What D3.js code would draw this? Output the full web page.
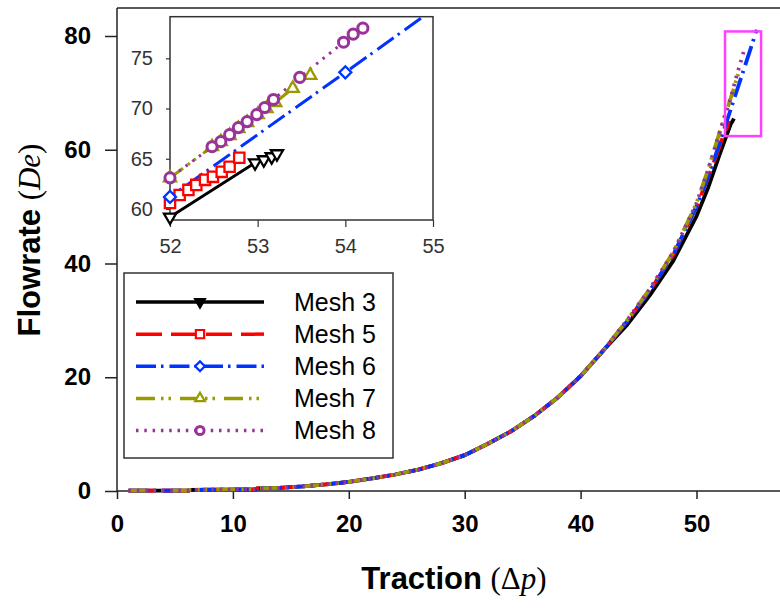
<!DOCTYPE html>
<html>
<head>
<meta charset="utf-8">
<script src="https://cdn.jsdelivr.net/npm/d3@7"></script>
<style>
  body { margin: 0; background: #fff; }
  svg { display: block; font-family: "Liberation Sans", Arial, sans-serif; }
</style>
</head>
<body>
<div id="chart"></div>
<script>
// Shared lower part of the curve (all meshes overlap here)
const baseTraction = [1, 6.2, 6.3, 12, 12.1, 14, 16, 18, 20, 22, 24, 26, 28, 30, 32, 34, 36, 38, 40, 42];
const baseFlow = [0.05, 0.05, 0.2, 0.3, 0.45, 0.55, 0.8, 1.15, 1.6, 2.2, 2.9, 3.75, 4.9, 6.3, 8.3, 10.5, 13.2, 16.4, 20.2, 24.8];

// Upper part, per mesh
const mesh3Traction = [44, 46, 48, 50, 51, 52, 52.97, 53.07, 53.16, 53.22];
const mesh3Flow = [29.2, 34.5, 40.5, 48.3, 53.3, 59.2, 64.6, 64.9, 65.2, 65.5];
const mesh5Traction = [44, 46, 48, 50, 51, 52, 52.11, 52.21, 52.3, 52.4, 52.49, 52.59, 52.68, 52.79];
const mesh5Flow = [29.8, 35.3, 41.5, 50.0, 55.0, 60.6, 61.4, 61.9, 62.4, 62.9, 63.2, 63.7, 64.2, 65.1];
const mesh6Traction = [44, 46, 48, 50, 51, 52, 54, 55.2];
const mesh6Flow = [29.8, 35.3, 41.5, 50.0, 55.2, 61.2, 73.6, 81.1];
const mesh7Traction = [44, 46, 48, 50, 51, 52, 52.48, 52.58, 52.68, 52.78, 52.88, 53.0, 53.1, 53.2, 53.4, 53.6];
const mesh7Flow = [30.0, 35.6, 42.0, 50.6, 56.5, 63.1, 66.2, 66.7, 67.3, 68.0, 68.6, 69.4, 70.0, 70.6, 72.0, 73.3];
const mesh8Traction = [44, 46, 48, 50, 51, 52, 52.48, 52.58, 52.68, 52.78, 52.88, 52.99, 53.08, 53.18, 53.48, 53.98, 54.09, 54.2];
const mesh8Flow = [30.0, 35.6, 42.0, 50.6, 56.5, 63.1, 66.2, 66.7, 67.4, 68.1, 68.7, 69.4, 70.1, 70.9, 73.1, 76.6, 77.4, 78.0];

const seriesNames = ['Mesh 3', 'Mesh 5', 'Mesh 6', 'Mesh 7', 'Mesh 8'];
const xTicks = [0, 10, 20, 30, 40, 50];
const yTicks = [0, 20, 40, 60, 80];
const insetXTicks = [52, 53, 54, 55];
const insetYTicks = [60, 65, 70, 75];
const zoomBox = [52.46, 55.57, 62.4, 80.8]; // x0, x1, y0, y1

const styles = [
  { color: '#000000', dash: null, shape: 'tridown' },
  { color: '#ff0000', dash: '26,9', shape: 'square' },
  { color: '#0033ff', dash: '20,5,2.5,6', shape: 'diamond' },
  { color: '#999900', dash: '19,6,2.5,5,2.5,9', shape: 'triup' },
  { color: '#993399', dash: '2.5,5.8', shape: 'circle' }
];

const tractions = [mesh3Traction, mesh5Traction, mesh6Traction, mesh7Traction, mesh8Traction];
const flows = [mesh3Flow, mesh5Flow, mesh6Flow, mesh7Flow, mesh8Flow];
const series = seriesNames.map((name, i) => ({
  name,
  style: styles[i],
  points: baseTraction.concat(tractions[i]).map((t, j) => [t, baseFlow.concat(flows[i])[j]])
}));

const svg = d3.select('#chart').append('svg').attr('width', 780).attr('height', 608);

// main scales
const x = d3.scaleLinear().domain([0, 50]).range([117, 696.5]);
const y = d3.scaleLinear().domain([0, 80]).range([491, 36]);

// frame
svg.append('line').attr('x1', 117).attr('x2', 780).attr('y1', 8).attr('y2', 8).attr('stroke', '#222').attr('stroke-width', 1.5);
svg.append('line').attr('x1', 117).attr('x2', 117).attr('y1', 8).attr('y2', 491).attr('stroke', '#222').attr('stroke-width', 1.5);
svg.append('line').attr('x1', 117).attr('x2', 780).attr('y1', 491).attr('y2', 491).attr('stroke', '#222').attr('stroke-width', 1.5);

const yAxis = svg.append('g').attr('transform', 'translate(117,0)')
  .call(d3.axisLeft(y).tickValues(yTicks).tickSize(12).tickPadding(14));
const xAxis = svg.append('g').attr('transform', 'translate(0,491)')
  .call(d3.axisBottom(x).tickValues(xTicks).tickSize(8).tickPadding(16));
[yAxis, xAxis].forEach(g => {
  g.select('.domain').remove();
  g.selectAll('line').attr('stroke', '#222').attr('stroke-width', 1.5);
  g.selectAll('text').attr('font-size', 24).attr('font-weight', 'bold').attr('fill', '#000')
    .attr('font-family', '"Liberation Sans", Arial, sans-serif');
});

// axis titles
const serif = '"Liberation Serif", serif';
const yTitle = svg.append('text')
  .attr('transform', 'translate(40,240) rotate(-90)')
  .attr('text-anchor', 'middle').attr('font-size', 31).attr('font-weight', 'bold');
yTitle.append('tspan').text('Flowrate ');
yTitle.append('tspan').attr('font-family', serif).attr('font-weight', 'normal').text('(');
yTitle.append('tspan').attr('font-family', serif).attr('font-weight', 'normal').attr('font-style', 'italic').text('De');
yTitle.append('tspan').attr('font-family', serif).attr('font-weight', 'normal').text(')');

const xTitle = svg.append('text')
  .attr('x', 454).attr('y', 589)
  .attr('text-anchor', 'middle').attr('font-size', 31).attr('font-weight', 'bold');
xTitle.append('tspan').text('Traction ');
xTitle.append('tspan').attr('font-family', serif).attr('font-weight', 'normal').text('(\u0394');
xTitle.append('tspan').attr('font-family', serif).attr('font-weight', 'normal').attr('font-style', 'italic').text('p');
xTitle.append('tspan').attr('font-family', serif).attr('font-weight', 'normal').text(')');

// main lines
const mainLine = d3.line().x(d => x(d[0])).y(d => y(d[1]));
series.forEach(s => {
  svg.append('path').datum(s.points)
    .attr('d', mainLine)
    .attr('fill', 'none')
    .attr('stroke', s.style.color)
    .attr('stroke-width', 3.8)
    .attr('stroke-dasharray', s.style.dash);
});

// zoom box
svg.append('rect')
  .attr('x', x(zoomBox[0])).attr('y', y(zoomBox[3]))
  .attr('width', x(zoomBox[1]) - x(zoomBox[0]))
  .attr('height', y(zoomBox[2]) - y(zoomBox[3]))
  .attr('fill', 'none').attr('stroke', '#ff40ff').attr('stroke-width', 2.5);

// marker helper
function marker(sel, shape, size) {
  if (shape === 'square') {
    sel.attr('d', d3.symbol(d3.symbolSquare, size * 1.25));
  } else if (shape === 'diamond') {
    sel.attr('d', d3.symbol(d3.symbolSquare, size * 0.85)).attr('data-rot', 45);
  } else if (shape === 'circle') {
    sel.attr('d', d3.symbol(d3.symbolCircle, size * 0.95));
  } else if (shape === 'triup') {
    sel.attr('d', d3.symbol(d3.symbolTriangle, size * 0.75));
  } else {
    sel.attr('d', d3.symbol(d3.symbolTriangle, size * 0.75)).attr('data-rot', 180);
  }
}

// inset
const xi = d3.scaleLinear().domain([52, 55]).range([170, 433]);
const yi = d3.scaleLinear().domain([60, 75]).range([209, 58.3]);
const inset = svg.append('g');
inset.append('rect').attr('x', 170).attr('y', 16.7).attr('width', 263).attr('height', 203.3)
  .attr('fill', '#fff').attr('stroke', '#333').attr('stroke-width', 1.5);
svg.append('clipPath').attr('id', 'insetClip')
  .append('rect').attr('x', 170).attr('y', 16.7).attr('width', 263).attr('height', 203.3);

const ixAxis = inset.append('g').attr('transform', 'translate(0,220)')
  .call(d3.axisBottom(xi).tickValues(insetXTicks).tickFormat(d3.format('d')).tickSize(7).tickPadding(12));
const iyAxis = inset.append('g').attr('transform', 'translate(170,0)')
  .call(d3.axisLeft(yi).tickValues(insetYTicks).tickFormat(d3.format('d')).tickSize(4).tickPadding(13));
[ixAxis, iyAxis].forEach(g => {
  g.select('.domain').remove();
  g.selectAll('line').attr('stroke', '#333').attr('stroke-width', 1.2);
  g.selectAll('text').attr('font-size', 20).attr('fill', '#333')
    .attr('font-family', '"Liberation Sans", Arial, sans-serif');
});

const insetLine = d3.line().x(d => xi(d[0])).y(d => yi(d[1]));
const insetPlot = inset.append('g').attr('clip-path', 'url(#insetClip)');
series.forEach(s => {
  insetPlot.append('path').datum(s.points)
    .attr('d', insetLine)
    .attr('fill', 'none')
    .attr('stroke', s.style.color)
    .attr('stroke-width', 3)
    .attr('stroke-dasharray', s.style.dash);
});
// markers are not clipped, only the points inside the inset range are drawn
const [ix0, ix1] = xi.domain();
series.forEach(s => {
  inset.selectAll(null)
    .data(s.points.filter(d => d[0] >= ix0 && d[0] <= ix1 && d[1] <= yi.invert(16.7)))
    .enter().append('path')
    .call(marker, s.style.shape, 85)
    .attr('transform', function(d) {
      const r = this.getAttribute('data-rot') || 0;
      return `translate(${xi(d[0])},${yi(d[1])}) rotate(${r})`;
    })
    .attr('fill', '#fff')
    .attr('stroke', s.style.color)
    .attr('stroke-width', s.style.shape === 'circle' ? 3 : 2.3);
});

// legend
const legend = svg.append('g');
legend.append('rect').attr('x', 124).attr('y', 273).attr('width', 269).attr('height', 185)
  .attr('fill', '#fff').attr('stroke', '#333').attr('stroke-width', 1.5);
const legendY = d3.scalePoint().domain(seriesNames).range([302, 430.5]);
series.forEach(s => {
  const ly = legendY(s.name);
  legend.append('line').attr('x1', 136).attr('x2', 264).attr('y1', ly).attr('y2', ly)
    .attr('stroke', s.style.color).attr('stroke-width', 3.5)
    .attr('stroke-dasharray', s.style.dash);
  legend.append('path')
    .call(marker, s.style.shape, 55)
    .attr('transform', function() {
      const r = this.getAttribute('data-rot') || 0;
      return `translate(200,${ly}) rotate(${r})`;
    })
    .attr('fill', s.style.shape === 'tridown' ? '#000' : '#fff')
    .attr('stroke', s.style.color)
    .attr('stroke-width', s.style.shape === 'circle' ? 3 : 2.2);
  legend.append('text').attr('x', 294).attr('y', ly).attr('dy', '0.35em')
    .attr('font-size', 25).attr('fill', '#000').text(s.name);
});
</script>
</body>
</html>
